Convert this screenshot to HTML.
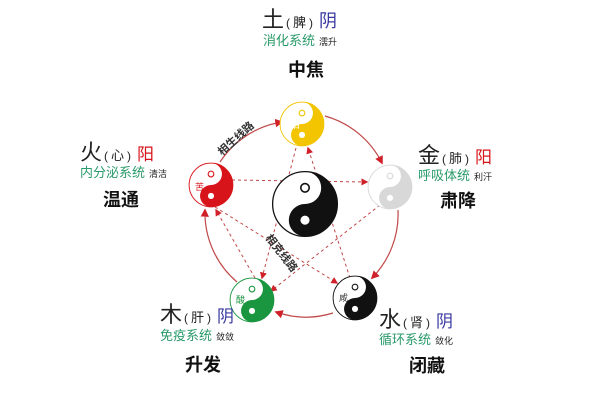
<!DOCTYPE html>
<html><head><meta charset="utf-8"><style>
html,body{margin:0;padding:0;background:#fff;}
svg{display:block;}
text{font-family:"Liberation Sans","Noto Sans CJK SC",sans-serif;}
</style></head><body>
<svg width="600" height="400" viewBox="0 0 600 400" xmlns="http://www.w3.org/2000/svg">
<defs>
<marker id="ar" viewBox="0 0 10 10" refX="8" refY="5" markerWidth="7" markerHeight="7" orient="auto"><path d="M0,0L10,5L0,10z" fill="#d0202a"/></marker>
<symbol id="yy" viewBox="-1.05 -1.05 2.1 2.1">
<circle r="1" fill="#fff" stroke="currentColor" stroke-width="0.04"/>
<path d="M0,-1A1,1 0 0,1 0,1A0.5,0.5 0 0,1 0,0A0.5,0.5 0 0,0 0,-1Z" fill="currentColor"/>
<circle cx="0" cy="-0.5" r="0.13" fill="none" stroke="currentColor" stroke-width="0.05"/>
<circle cx="0" cy="0.5" r="0.14" fill="#fff"/>
</symbol>
</defs>
<!-- outer generating circle arcs -->
<g fill="none" stroke="#c04848" stroke-width="1.2">
<path d="M325,116 A91,91 0 0,1 382,163" marker-end="url(#ar)"/>
<path d="M398,210 A91,91 0 0,1 372,278" marker-end="url(#ar)"/>
<path d="M333,313 A91,91 0 0,1 276,312" marker-end="url(#ar)"/>
<path d="M237,282 A91,91 0 0,1 205,210" marker-end="url(#ar)"/>
<path d="M220,162 A91,91 0 0,1 282,122" marker-end="url(#ar)"/>
</g>
<!-- dashed star -->
<g fill="none" stroke="#c04848" stroke-width="1" stroke-dasharray="3,3">
<path d="M232,180 L367,182" marker-end="url(#ar)"/>
<path d="M380,205 L271,291" marker-end="url(#ar)"/>
<path d="M255,278 L216,210" marker-end="url(#ar)"/>
<path d="M215,207 L337,283" marker-end="url(#ar)"/>
<path d="M350,278 L308,148" marker-end="url(#ar)"/>
<path d="M296,148 L262,278" marker-end="url(#ar)"/>
</g>
<!-- nodes -->
<use href="#yy" x="279" y="101" width="46" height="46" color="#f2c500"/>
<use href="#yy" x="367" y="164" width="46" height="46" color="#d8d8d8"/>
<use href="#yy" x="188" y="162" width="46" height="46" color="#d7141a"/>
<use href="#yy" x="229" y="277" width="46" height="46" color="#1b9640"/>
<use href="#yy" x="332" y="275" width="46" height="46" color="#111"/>
<use href="#yy" x="271" y="170" width="68" height="68" color="#111"/>
<text x="292" y="128" font-size="9" fill="#fff">甘</text>
<text x="195" y="190" font-size="9" fill="#d7141a">苦</text>
<text x="236" y="303" font-size="9" fill="#1b9640">酸</text>
<text x="339" y="301" font-size="9" fill="#333">咸</text>
<!-- path labels -->
<text x="0" y="0" font-size="11" font-weight="bold" fill="#333" transform="translate(222,156) rotate(-42)">相生线路</text>
<text x="0" y="0" font-size="11" font-weight="bold" fill="#333" transform="translate(265,238) rotate(52)">相克线路</text>
<!-- earth -->
<text x="262" y="27" font-size="22" fill="#222">土<tspan font-size="12" dx="2">(</tspan><tspan font-size="13" dx="3">脾</tspan><tspan font-size="12" dx="3">)</tspan><tspan font-size="18" fill="#3838a0" dx="6">阴</tspan></text>
<text x="263" y="45" font-size="13" fill="#2a9a6a">消化系统<tspan font-size="9" fill="#222" dx="4">濡升</tspan></text>
<text x="288" y="76" font-size="18" font-weight="bold" fill="#111">中焦</text>
<!-- fire -->
<text x="80" y="160" font-size="22" fill="#222">火<tspan font-size="12" dx="2">(</tspan><tspan font-size="13" dx="3">心</tspan><tspan font-size="12" dx="3">)</tspan><tspan font-size="17" fill="#d7141a" dx="6">阳</tspan></text>
<text x="80" y="177" font-size="13" fill="#2a9a6a">内分泌系统<tspan font-size="9" fill="#222" dx="4">清洁</tspan></text>
<text x="103" y="206" font-size="18" font-weight="bold" fill="#111">温通</text>
<!-- metal -->
<text x="418" y="163" font-size="22" fill="#222">金<tspan font-size="12" dx="2">(</tspan><tspan font-size="13" dx="3">肺</tspan><tspan font-size="12" dx="3">)</tspan><tspan font-size="17" fill="#d7141a" dx="6">阳</tspan></text>
<text x="418" y="180" font-size="13" fill="#2a9a6a">呼吸体统<tspan font-size="9" fill="#222" dx="4">利汗</tspan></text>
<text x="440" y="207" font-size="18" font-weight="bold" fill="#111">肃降</text>
<!-- wood -->
<text x="160" y="322" font-size="22" fill="#222">木<tspan font-size="12" dx="2">(</tspan><tspan font-size="13" dx="3">肝</tspan><tspan font-size="12" dx="3">)</tspan><tspan font-size="17" fill="#3838a0" dx="6">阴</tspan></text>
<text x="160" y="340" font-size="13" fill="#2a9a6a">免疫系统<tspan font-size="9" fill="#222" dx="4">敛敛</tspan></text>
<text x="185" y="371" font-size="18" font-weight="bold" fill="#111">升发</text>
<!-- water -->
<text x="379" y="327" font-size="22" fill="#222">水<tspan font-size="12" dx="2">(</tspan><tspan font-size="13" dx="3">肾</tspan><tspan font-size="12" dx="3">)</tspan><tspan font-size="17" fill="#3838a0" dx="6">阴</tspan></text>
<text x="379" y="344" font-size="13" fill="#2a9a6a">循环系统<tspan font-size="9" fill="#222" dx="4">敛化</tspan></text>
<text x="409" y="372" font-size="18" font-weight="bold" fill="#111">闭藏</text>
</svg>
</body></html>
